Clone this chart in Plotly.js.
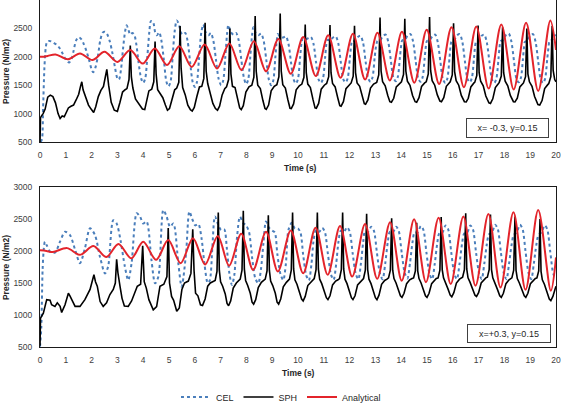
<!DOCTYPE html>
<html>
<head>
<meta charset="utf-8">
<script src="https://cdn.plot.ly/plotly-3.0.1.min.js"></script>
<style>
  html, body { margin: 0; padding: 0; background: #fff; }
  #chart { width: 563px; height: 406px; }
</style>
</head>
<body>
<div id="chart"></div>
<script>
// Pressure histories (N/m2) against time (s) at two probe points.
// Each series is a list of [time, pressure] samples.

const seriesNames = ['CEL', 'SPH', 'Analytical'];
const probeLabels = ['x= -0.3, y=0.15', 'x=+0.3, y=0.15'];
const xTicks = [0, 20, 1];
const yTicks = [500, 3000, 500];

// ---- probe x = -0.3 ----
const celTop = [
  [0.03,500],[0.08,560],[0.12,1100],[0.17,1800],[0.22,2150],[0.27,2260],[0.36,2280],[0.45,2270],[0.55,2240],
  [0.65,2210],[0.75,2160],[0.85,2080],[0.95,1990],[1.05,1920],[1.13,1900],[1.22,1960],[1.3,2100],[1.4,2290],
  [1.5,2345],[1.6,2310],[1.7,2220],[1.8,2100],[1.9,1950],[2.0,1780],[2.06,1730],[2.14,1800],[2.24,2000],
  [2.34,2300],[2.44,2430],[2.52,2440],[2.6,2400],[2.7,2280],[2.8,2080],[2.9,1830],[3.0,1620],[3.06,1600],
  [3.14,1780],[3.22,2150],[3.3,2450],[3.36,2555],[3.43,2470],[3.5,2390],[3.58,2420],[3.66,2380],[3.74,2200],
  [3.82,1900],[3.92,1620],[4.0,1540],[4.08,1620],[4.16,2000],[4.24,2450],[4.3,2630],[4.38,2620],[4.46,2440],
  [4.53,2380],[4.62,2430],[4.7,2300],[4.8,1950],[4.9,1560],[4.98,1480],[5.06,1560],[5.14,2000],[5.22,2450],
  [5.3,2640],[5.38,2580],[5.46,2430],[5.54,2390],[5.63,2420],[5.72,2280],[5.82,1900],[5.92,1550],[6.0,1470],
  [6.08,1550],[6.16,1950],[6.25,2420],
  [6.33,2570],[6.42,2430],[6.53,2380],[6.62,2420],[6.72,2280],[6.82,1950],[6.92,1620],[7.02,1500],[7.1,1580],[7.18,1980],[7.25,2400],
  [7.30,2560],[7.39,2440],[7.5,2390],[7.6,2420],[7.7,2290],[7.8,1960],[7.9,1640],[7.99,1520],[8.07,1600],[8.15,2000],[8.22,2380],
  [8.27,2520],[8.36,2420],[8.47,2380],[8.57,2410],[8.67,2280],[8.77,1950],[8.87,1600],[8.96,1500],[9.04,1580],[9.12,1980],[9.18,2300],
  [9.22,2400],[9.31,2350],[9.43,2340],[9.53,2360],[9.63,2230],[9.73,1900],[9.83,1600],[9.92,1530],[10.0,1610],[10.08,1980],[10.14,2250],
  [10.19,2320],[10.28,2300],[10.4,2330],[10.5,2350],[10.6,2230],[10.7,1900],[10.8,1600],[10.89,1540],[10.97,1620],[11.05,1980],[11.1,2220],
  [11.15,2300],[11.24,2290],[11.36,2340],[11.46,2360],[11.56,2240],[11.66,1900],[11.76,1600],[11.85,1550],[11.93,1630],[12.01,1980],[12.06,2200],
  [12.1,2280],[12.2,2280],[12.32,2350],[12.42,2370],[12.52,2250],[12.62,1920],[12.72,1620],[12.81,1560],[12.89,1640],[12.97,1980],[13.03,2200],
  [13.08,2280],[13.18,2290],[13.3,2370],[13.4,2390],[13.5,2260],[13.6,1930],[13.7,1630],[13.79,1570],[13.87,1650],[13.95,1990],[14.0,2200],
  [14.04,2290],[14.14,2300],[14.26,2380],[14.36,2400],[14.46,2270],[14.56,1930],[14.66,1620],[14.75,1560],[14.83,1640],[14.91,1980],[14.96,2200],
  [15.0,2280],[15.1,2290],[15.22,2370],[15.32,2390],[15.42,2250],[15.52,1910],[15.62,1600],[15.71,1540],[15.79,1620],[15.87,1970],[15.91,2180],
  [15.95,2270],[16.05,2290],[16.17,2380],[16.27,2400],[16.37,2260],[16.47,1920],[16.57,1610],[16.66,1550],[16.74,1630],[16.82,1970],[16.86,2170],
  [16.9,2260],[17.0,2280],[17.12,2370],[17.22,2390],[17.32,2250],[17.42,1910],[17.52,1600],[17.61,1540],[17.69,1620],[17.77,1960],[17.81,2160],
  [17.85,2270],[17.95,2300],[18.07,2390],[18.17,2410],[18.27,2270],[18.37,1930],[18.47,1610],[18.56,1550],[18.64,1630],[18.72,1970],[18.76,2170],
  [18.79,2260],[18.89,2290],[19.01,2380],[19.11,2400],[19.21,2260],[19.31,1920],[19.41,1600],[19.5,1540],[19.58,1620],[19.66,1960],[19.71,2170],
  [19.75,2280],[19.85,2300],[19.97,2380],[20.0,2370]
];

const sphTop = [
  [0,500],[0.02,930],[0.06,960],[0.12,1000],[0.2,1080],[0.3,1290],[0.4,1325],[0.5,1300],[0.6,1190],[0.7,1000],
  [0.78,915],[0.86,960],[0.94,945],[1.02,1040],[1.1,1100],[1.2,1130],[1.3,1150],[1.4,1240],[1.5,1340],[1.57,1480],
  [1.62,1560],[1.67,1420],[1.76,1300],[1.88,1150],[1.98,1080],[2.08,1020],[2.16,1120],[2.26,1300],[2.36,1410],
  [2.46,1480],[2.53,1640],[2.59,1780],[2.66,1500],[2.76,1200],[2.88,1060],[3.0,1040],[3.1,1200],[3.2,1380],[3.3,1420],
  [3.37,1440],[3.45,1600],[3.50,2200],[3.54,1650],[3.6,1450],[3.7,1260],[3.8,1200],[3.9,1120],[3.97,1080],[4.06,1070],[4.14,1240],[4.22,1400],
  [4.33,1430],[4.41,1560],[4.46,2270],[4.5,1700],[4.56,1420],[4.66,1360],[4.76,1280],[4.86,1150],[4.94,1060],[5.02,1090],[5.12,1260],[5.22,1420],
  [5.3,1450],[5.38,1550],[5.43,2540],[5.47,1800],[5.53,1460],[5.63,1330],[5.73,1150],[5.83,1070],[5.9,1045],[5.98,1110],[6.08,1300],[6.18,1470],
  [6.27,1480],[6.35,1620],[6.40,2600],[6.44,1750],[6.5,1530],[6.6,1330],[6.7,1180],[6.8,1090],[6.88,1060],[6.96,1130],[7.06,1330],[7.16,1440],
  [7.23,1470],[7.31,1600],[7.36,2500],[7.4,1700],[7.46,1480],[7.56,1460],[7.66,1250],[7.74,1100],[7.8,1070],[7.88,1140],[7.98,1380],[8.1,1470],
  [8.21,1500],[8.29,1640],[8.34,2720],[8.38,1750],[8.44,1500],[8.54,1440],[8.64,1230],[8.72,1090],[8.77,1075],[8.86,1150],[8.96,1400],[9.08,1480],
  [9.18,1510],[9.26,1650],[9.31,2760],[9.35,1750],[9.41,1510],[9.51,1450],[9.61,1240],[9.69,1095],[9.74,1090],[9.83,1170],[9.93,1420],[10.05,1490],
  [10.15,1520],[10.23,1640],[10.28,2570],[10.32,1720],[10.38,1520],[10.48,1460],[10.58,1250],[10.66,1100],[10.71,1095],[10.8,1180],[10.9,1430],[11.02,1500],
  [11.11,1530],[11.19,1650],[11.24,2560],[11.28,1720],[11.34,1530],[11.44,1470],[11.54,1280],[11.62,1140],[11.67,1130],[11.76,1210],[11.86,1440],[11.98,1510],
  [12.06,1540],[12.14,1660],[12.19,2545],[12.23,1720],[12.29,1540],[12.39,1480],[12.49,1300],[12.57,1175],[12.62,1165],[12.71,1240],[12.81,1450],[12.93,1520],
  [13.05,1550],[13.13,1680],[13.18,2690],[13.22,1750],[13.28,1560],[13.38,1490],[13.48,1320],[13.56,1210],[13.62,1200],[13.71,1270],[13.81,1470],[13.93,1530],
  [14.01,1560],[14.09,1690],[14.14,2670],[14.18,1750],[14.24,1570],[14.34,1500],[14.44,1320],[14.54,1210],[14.6,1200],[14.69,1280],[14.79,1480],[14.91,1540],
  [14.97,1560],[15.05,1700],[15.10,2700],[15.14,1760],[15.2,1580],[15.3,1500],[15.4,1330],[15.5,1220],[15.56,1210],[15.65,1280],[15.75,1480],[15.86,1540],
  [15.9,1560],[15.98,1680],[16.03,2590],[16.07,1740],[16.13,1580],[16.23,1500],[16.33,1320],[16.45,1210],[16.52,1205],[16.6,1270],[16.7,1470],[16.82,1540],
  [16.85,1550],[16.93,1670],[16.98,2550],[17.02,1720],[17.08,1570],[17.18,1490],[17.28,1310],[17.4,1190],[17.46,1180],[17.55,1260],[17.65,1460],[17.77,1530],
  [17.8,1550],[17.88,1660],[17.93,2520],[17.97,1720],[18.03,1570],[18.13,1490],[18.23,1320],[18.35,1210],[18.41,1205],[18.5,1270],[18.6,1470],[18.72,1530],
  [18.74,1540],[18.82,1650],[18.87,2500],[18.91,1700],[18.97,1560],[19.07,1480],[19.17,1300],[19.3,1160],[19.37,1150],[19.46,1230],[19.56,1440],[19.68,1510],
  [19.72,1530],[19.8,1650],[19.85,2540],[19.89,1760],[19.95,1600],[20.0,1560]
];

const anaTop = [
  [0,2000],[0.15,2002],[0.3,2015],[0.6,2042],[1.08,1955],[1.55,2058],[2.03,1942],[2.5,2088],[3.0,1910],
  [3.5,2118],[3.98,1880],[4.45,2148],[4.92,1855],[5.4,2185],[5.88,1822],[6.38,2215],[6.86,1793],[7.34,2235],
  [7.81,1765],[8.29,2275],[8.76,1745],[9.24,2315],[9.72,1700],[10.2,2348],[10.69,1660],[11.17,2378],[11.65,1632],
  [12.13,2405],[12.6,1600],[13.08,2425],[13.56,1585],[14.03,2440],[14.51,1545],[14.99,2478],[15.47,1520],
  [15.95,2520],[16.43,1465],[16.91,2535],[17.39,1440],[17.88,2570],[18.36,1425],[18.84,2600],[19.31,1400],
  [19.78,2640],[20.0,2120]
];

// ---- probe x = +0.3 ----
const celBot = [
  [0,505],[0.05,800],[0.1,1700],[0.15,2050],[0.19,2145],[0.26,2090],[0.39,1990],[0.58,1975],[0.78,2150],
  [0.97,2300],[1.16,2250],[1.36,2020],[1.55,1810],[1.74,2040],[1.94,2355],[2.13,2250],[2.33,1900],[2.52,1650],
  [2.64,1755],[2.84,2480],[2.97,2430],[3.12,2170],[3.29,1755],[3.42,1545],[3.55,1810],[3.75,2590],[3.88,2535],
  [4.0,2430],[4.13,2460],[4.32,1860],[4.46,1495],[4.59,1600],[4.78,2640],[4.91,2535],[5.04,2380],[5.17,2430],
  [5.36,1810],[5.49,1443],[5.66,1960],
  [5.79,2615],[5.9,2500],[6.02,2400],[6.14,2420],[6.26,2200],[6.38,1780],[6.5,1500],[6.58,1540],[6.68,2050],
  [6.78,2540],[6.9,2420],[7.02,2330],[7.14,2340],[7.24,2050],[7.34,1650],[7.44,1470],[7.53,1620],[7.64,2230],
  [7.75,2535],[7.87,2440],[7.99,2400],[8.1,2300],[8.22,1900],[8.34,1580],[8.46,1495],[8.56,1700],[8.66,2120],
  [8.76,2460],[8.88,2360],[9.0,2320],[9.1,2290],[9.2,1950],[9.32,1640],[9.43,1545],[9.53,1800],[9.63,2330],
  [9.76,2440],[9.88,2350],[10.0,2350],[10.1,2280],[10.2,1940],[10.32,1620],[10.42,1540],[10.52,1790],[10.6,2150],
  [10.7,2330],[10.82,2300],[10.94,2360],[11.04,2300],[11.16,1950],[11.28,1630],[11.38,1550],[11.48,1800],[11.57,2150],
  [11.66,2320],[11.78,2300],[11.9,2370],[12.0,2310],[12.12,1960],[12.24,1640],[12.34,1560],[12.44,1810],[12.53,2150],
  [12.6,2310],[12.72,2300],[12.84,2380],[12.94,2320],[13.06,1970],[13.18,1640],[13.28,1560],[13.38,1800],[13.48,2140],
  [13.56,2300],[13.68,2290],[13.8,2380],[13.9,2320],[14.02,1970],[14.14,1650],[14.24,1570],[14.34,1810],[14.44,2140],
  [14.52,2290],[14.64,2290],[14.76,2390],[14.86,2330],[14.98,1970],[15.1,1640],[15.2,1560],[15.3,1800],[15.4,2130],
  [15.48,2280],[15.6,2290],[15.72,2400],[15.82,2340],[15.94,1980],[16.06,1640],[16.16,1560],[16.26,1800],[16.36,2120],
  [16.44,2270],[16.56,2290],[16.68,2400],[16.78,2340],[16.9,1980],[17.02,1650],[17.12,1560],[17.22,1800],[17.32,2110],
  [17.4,2260],[17.52,2290],[17.64,2410],[17.74,2350],[17.86,1990],[17.98,1650],[18.08,1560],[18.18,1800],[18.28,2100],
  [18.36,2250],[18.48,2290],[18.6,2410],[18.7,2350],[18.82,1990],[18.94,1650],[19.04,1560],[19.14,1800],[19.24,2100],
  [19.32,2250],[19.44,2290],[19.56,2400],[19.66,2340],[19.78,1980],[19.9,1640],[20.0,1580]
];

const sphBot = [
  [0,520],[0.02,950],[0.13,1030],[0.26,1240],[0.39,1230],[0.45,1160],[0.58,1135],[0.67,1190],[0.78,1135],
  [0.84,1040],[0.97,1160],[1.1,1340],[1.16,1300],[1.23,1240],[1.36,1135],[1.55,1135],[1.74,1240],[1.94,1400],
  [2.05,1560],[2.09,1630],[2.15,1520],[2.22,1450],[2.33,1210],[2.45,1135],[2.58,1190],[2.71,1320],[2.84,1400],
  [2.92,1500],[2.97,1870],[3.02,1660],[3.1,1450],[3.18,1260],[3.27,1140],[3.42,1135],[3.55,1220],[3.65,1320],
  [3.77,1450],[3.9,1480],[3.98,2080],[4.04,1520],[4.12,1420],[4.22,1240],[4.39,1080],[4.52,1130],[4.65,1450],
  [4.8,1480],[4.92,1600],[4.97,2360],[5.02,1500],[5.1,1290],[5.18,1230],[5.3,1060],[5.4,1110],[5.5,1400],
  [5.6,1500],[5.75,1530],[5.85,1650],[5.92,2340],[5.97,1700],[6.03,1340],[6.12,1300],[6.22,1160],[6.3,1150],
  [6.4,1250],[6.5,1450],[6.6,1500],
  [6.79,1540],[6.86,1680],[6.91,2600],[6.95,1700],[7.0,1520],[7.08,1450],[7.18,1330],[7.25,1180],[7.31,1145],[7.39,1220],[7.49,1420],[7.61,1500],[7.69,1530],
  [7.76,1560],[7.83,1700],[7.88,2630],[7.92,1720],[7.97,1540],[8.05,1460],[8.15,1340],[8.22,1200],[8.28,1170],[8.36,1240],[8.46,1430],[8.58,1510],[8.66,1540],
  [8.73,1560],[8.8,1690],[8.85,2560],[8.89,1700],[8.94,1530],[9.02,1460],[9.12,1340],[9.19,1200],[9.25,1170],[9.33,1250],[9.43,1440],[9.55,1510],[9.6,1530],
  [9.67,1560],[9.74,1700],[9.79,2600],[9.83,1720],[9.88,1550],[9.96,1480],[10.06,1360],[10.14,1250],[10.2,1220],[10.28,1290],[10.38,1460],[10.5,1520],[10.57,1540],
  [10.63,1570],[10.7,1710],[10.75,2600],[10.79,1720],[10.84,1560],[10.92,1490],[11.02,1370],[11.1,1270],[11.16,1240],[11.24,1300],[11.34,1470],[11.46,1530],[11.55,1550],
  [11.61,1570],[11.68,1710],[11.73,2600],[11.77,1720],[11.82,1560],[11.9,1490],[12.0,1370],[12.07,1270],[12.13,1240],[12.21,1300],[12.31,1470],[12.43,1530],[12.49,1550],
  [12.54,1570],[12.61,1700],[12.66,2580],[12.7,1710],[12.75,1560],[12.83,1490],[12.93,1370],[13.0,1270],[13.06,1240],[13.14,1310],[13.24,1480],[13.36,1540],[13.45,1560],
  [13.51,1580],[13.58,1700],[13.63,2510],[13.67,1700],[13.72,1570],[13.8,1500],[13.9,1390],[13.97,1300],[14.03,1275],[14.11,1340],[14.21,1490],[14.33,1550],[14.42,1570],
  [14.48,1580],[14.55,1690],[14.6,2440],[14.64,1690],[14.69,1570],[14.77,1500],[14.87,1390],[14.94,1300],[15.0,1275],[15.08,1340],[15.18,1490],[15.3,1550],[15.36,1570],
  [15.43,1580],[15.5,1700],[15.55,2530],[15.59,1710],[15.64,1580],[15.72,1510],[15.82,1400],[15.9,1310],[15.96,1285],[16.04,1350],[16.14,1500],[16.26,1560],[16.32,1580],
  [16.38,1590],[16.45,1710],[16.5,2590],[16.54,1720],[16.59,1580],[16.67,1510],[16.77,1400],[16.86,1310],[16.92,1290],[17.0,1350],[17.1,1500],[17.22,1560],[17.28,1580],
  [17.34,1590],[17.41,1710],[17.46,2570],[17.5,1710],[17.55,1580],[17.63,1510],[17.73,1400],[17.82,1300],[17.88,1275],[17.96,1340],[18.06,1490],[18.18,1550],[18.23,1570],
  [18.29,1580],[18.36,1700],[18.41,2540],[18.45,1700],[18.5,1570],[18.58,1500],[18.68,1390],[18.77,1300],[18.83,1275],[18.91,1340],[19.01,1490],[19.13,1550],[19.2,1570],
  [19.26,1580],[19.33,1690],[19.38,2500],[19.42,1680],[19.47,1550],[19.55,1480],[19.65,1360],[19.74,1250],[19.8,1225],[19.88,1290],[19.96,1400],[20.0,1450]
];

const anaBot = [
  [0,2010],[0.25,2000],[0.5,1985],[1.05,2045],[1.55,1940],[2.07,2078],[2.57,1905],[3.04,2110],[3.54,1885],
  [4.0,2145],[4.5,1862],[4.97,2170],[5.45,1810],[5.93,2200],[6.4,1790],[6.89,2235],[7.33,1770],[7.8,2270],
  [8.26,1705],[8.76,2300],[9.22,1680],[9.72,2320],[10.2,1652],[10.68,2365],[11.15,1630],[11.63,2390],[12.1,1600],
  [12.6,2422],[13.07,1565],[13.57,2450],[14.02,1536],[14.5,2495],[14.96,1512],[15.45,2520],[15.92,1484],
  [16.41,2540],[16.88,1458],[17.38,2578],[17.85,1430],[18.35,2605],[18.82,1395],[19.31,2640],[19.8,1380],[20.0,1900]
];

const xs = s => s.map(p => p[0]);
const ys = s => s.map(p => p[1]);

const FONT = 'Liberation Sans, Arial, sans-serif';
const celStyle = {color: '#4A7EBB', width: 2, dash: 'dot', shape: 'spline', smoothing: 0.8};
const sphStyle = {color: '#000000', width: 1.6};
const anaStyle = {color: '#E3242B', width: 2, shape: 'spline', smoothing: 0.9};

function panelTraces(cel, sph, ana, xa, ya, legend) {
  return [
    {x: xs(cel), y: ys(cel), xaxis: xa, yaxis: ya, type: 'scatter', mode: 'lines',
     name: seriesNames[0], legendgroup: 'cel', showlegend: legend, line: celStyle},
    {x: xs(sph), y: ys(sph), xaxis: xa, yaxis: ya, type: 'scatter', mode: 'lines',
     name: seriesNames[1], legendgroup: 'sph', showlegend: legend, line: sphStyle},
    {x: xs(ana), y: ys(ana), xaxis: xa, yaxis: ya, type: 'scatter', mode: 'lines',
     name: seriesNames[2], legendgroup: 'ana', showlegend: legend, line: anaStyle}
  ];
}

const data = [
  ...panelTraces(celTop, sphTop, anaTop, 'x', 'y', false),
  ...panelTraces(celBot, sphBot, anaBot, 'x2', 'y2', true)
];

const tickFont = {family: FONT, size: 8.5, color: '#404040'};
function xAxis(anchor) {
  return {
    anchor: anchor, domain: [0, 1], range: [xTicks[0], xTicks[1]], tick0: xTicks[0], dtick: xTicks[2],
    showgrid: false, zeroline: false, showline: true, mirror: true, linecolor: '#1a1a1a', linewidth: 1,
    ticks: '', tickfont: tickFont, ticklabelstandoff: 5, fixedrange: true
  };
}
function yAxis(anchor, domain) {
  return {
    anchor: anchor, domain: domain, range: [yTicks[0], yTicks[1]], tick0: yTicks[0], dtick: yTicks[2],
    showgrid: false, zeroline: false, showline: true, mirror: true, linecolor: '#1a1a1a', linewidth: 1,
    ticks: '', tickfont: tickFont, ticklabelstandoff: 5, fixedrange: true
  };
}

const titleFont = {family: FONT, size: 8.5, color: '#262626', weight: 'bold'};
const boxFont = {family: FONT, size: 9, color: '#262626'};

// paper-positioned text, centred on its anchor point
function label(text, x, y, extra) {
  return Object.assign({text: text, xref: 'paper', yref: 'paper', x: x, y: y,
    xanchor: 'center', yanchor: 'middle', showarrow: false}, extra);
}

const layout = {
  width: 563, height: 406,
  margin: {l: 40, r: 7, t: 0, b: 0, autoexpand: false},
  paper_bgcolor: '#ffffff', plot_bgcolor: '#ffffff',
  xaxis: xAxis('y'),
  yaxis: yAxis('x', [0.6502, 1]),
  xaxis2: xAxis('y2'),
  yaxis2: yAxis('x2', [0.1453, 0.5394]),
  showlegend: true,
  legend: {
    orientation: 'h', x: 0.467, xanchor: 'center', y: 0.022, yanchor: 'middle',
    font: {family: FONT, size: 9, color: '#262626'}, itemwidth: 30, bgcolor: 'rgba(0,0,0,0)'
  },
  annotations: [
    label('<b>Pressure (N/m2)</b>', -0.066, 0.825, {textangle: -90, font: titleFont}),
    label('<b>Pressure (N/m2)</b>', -0.066, 0.342, {textangle: -90, font: titleFont}),
    label('<b>Time (s)</b>', 0.504, 0.586, {font: titleFont}),
    label('<b>Time (s)</b>', 0.5, 0.0813, {font: titleFont}),
    label(probeLabels[0], 0.906, 0.6847, {font: boxFont, bgcolor: '#ffffff', bordercolor: '#404040',
      borderwidth: 1, width: 79, height: 16, borderpad: 1}),
    label(probeLabels[1], 0.909, 0.1786, {font: boxFont, bgcolor: '#ffffff', bordercolor: '#404040',
      borderwidth: 1, width: 80, height: 15, borderpad: 1})
  ]
};

Plotly.newPlot('chart', data, layout, {staticPlot: true, displayModeBar: false});
</script>
</body>
</html>
